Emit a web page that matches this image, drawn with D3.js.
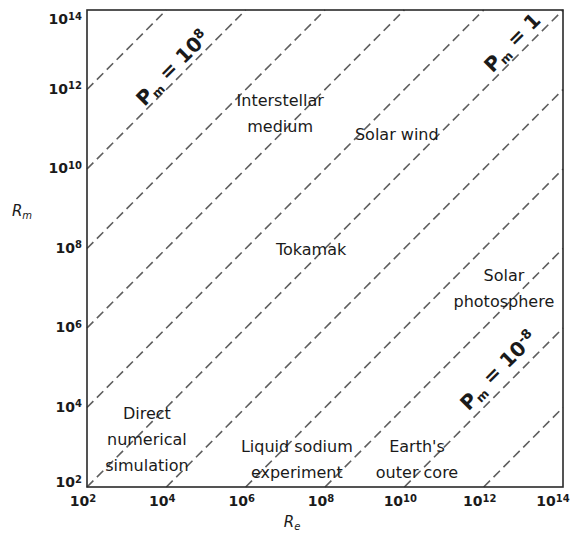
<!DOCTYPE html>
<html>
<head>
<meta charset="utf-8">
<script src="https://cdn.jsdelivr.net/npm/d3@7"></script>
<style>
  html, body { margin: 0; padding: 0; background: #fff; }
  svg { display: block; }
  text { font-family: "DejaVu Sans", sans-serif; fill: #1a1a1a; }
</style>
</head>
<body>
<svg id="chart" width="575" height="536"></svg>
<script>
// Axis decades (powers of ten) shown as tick labels on both axes
const reTickExponents = [2, 4, 6, 8, 10, 12, 14];
const rmTickExponents = [2, 4, 6, 8, 10, 12, 14];

// Magnetic Prandtl number contours Pm = Rm / Re (powers of ten)
const pmExponents = [10, 8, 6, 4, 2, 0, -2, -4, -6, -8, -10];

// Labelled contours: exponent and Re position (log10) along the line
const pmLabelExponents = [8, 0, -8];
const pmLabelReLog = [4.35, 12.95, 12.65];

// Physical regimes: name lines and their (Re, Rm) location (log10)
const regimeNames = [
  ["Interstellar", "medium"],
  ["Solar wind"],
  ["Tokamak"],
  ["Solar", "photosphere"],
  ["Direct", "numerical", "simulation"],
  ["Liquid sodium", "experiment"],
  ["Earth's", "outer core"]
];
const regimeReLog = [6.87, 9.81, 7.65, 12.51, 3.51, 7.29, 10.32];
const regimeRmLog = [11.38, 10.86, 7.96, 6.99, 3.18, 2.68, 2.69];

const svg = d3.select("#chart");
const margin = { left: 87, right: 12, top: 10, bottom: 49 };
const W = 575, H = 536;

const x = d3.scaleLog().domain([1e2, 1e14]).range([margin.left, W - margin.right]);
const y = d3.scaleLog().domain([1e2, 1e14]).range([H - margin.bottom, margin.top]);

// Dashed Pm contours, clipped to the plotted domain
const line = d3.line().x(d => x(d[0])).y(d => y(d[1]));
svg.append("g")
  .selectAll("path")
  .data(pmExponents)
  .join("path")
  .attr("d", e => {
    const lo = Math.max(2, 2 - e), hi = Math.min(14, 14 - e);
    return line([[10 ** lo, 10 ** (lo + e)], [10 ** hi, 10 ** (hi + e)]]);
  })
  .attr("fill", "none")
  .attr("stroke", "#5e5e5e")
  .attr("stroke-width", 1.6)
  .attr("stroke-dasharray", "9,5");

// Plot frame
svg.append("rect")
  .attr("x", x(1e2)).attr("y", y(1e14))
  .attr("width", x(1e14) - x(1e2)).attr("height", y(1e2) - y(1e14))
  .attr("fill", "none").attr("stroke", "#2a2a2a").attr("stroke-width", 1.6);

// Tick labels written as 10 with a superscript exponent
function powerLabel(sel) {
  sel.append("tspan").text("10");
  sel.append("tspan").attr("dy", "-0.45em").attr("font-size", "10px").text(d => d);
}

svg.append("g")
  .selectAll("text")
  .data(reTickExponents)
  .join("text")
  .attr("x", d => Math.min(x(10 ** d) - 4, W - 22))
  .attr("y", H - margin.bottom + 19)
  .attr("text-anchor", "middle")
  .attr("font-size", "14px")
  .attr("font-weight", "bold")
  .call(powerLabel);

svg.append("g")
  .selectAll("text")
  .data(rmTickExponents)
  .join("text")
  .attr("x", margin.left - 5)
  .attr("y", d => Math.min(Math.max(y(10 ** d) + 4, margin.top + 14), H - margin.bottom))
  .attr("text-anchor", "end")
  .attr("font-size", "14px")
  .attr("font-weight", "bold")
  .call(powerLabel);

// Axis titles
const xt = svg.append("text")
  .attr("x", 292).attr("y", 527)
  .attr("text-anchor", "middle")
  .attr("font-size", "15px").attr("font-style", "italic");
xt.append("tspan").text("R");
xt.append("tspan").attr("dy", "0.3em").attr("font-size", "10px").text("e");

const yt = svg.append("text")
  .attr("x", 22).attr("y", 216)
  .attr("text-anchor", "middle")
  .attr("font-size", "15px").attr("font-style", "italic");
yt.append("tspan").text("R");
yt.append("tspan").attr("dy", "0.3em").attr("font-size", "10px").text("m");

// Pm labels running along their contours, just above the dashed line
svg.append("g")
  .selectAll("text")
  .data(pmLabelExponents)
  .join("text")
  .each(function (e, i) {
    const re = 10 ** pmLabelReLog[i];
    const px = x(re), py = y(re * 10 ** e);
    const t = d3.select(this)
      .attr("transform", `translate(${px},${py}) rotate(-45)`)
      .attr("y", e < 0 ? -8 : (e === 0 ? -5 : -3))
      .attr("text-anchor", "middle")
      .attr("font-size", "20px")
      .attr("font-weight", "bold");
    t.append("tspan").text("P");
    t.append("tspan").attr("dy", "0.25em").attr("font-size", "12px").text("m");
    t.append("tspan").attr("dy", "-0.25em").text(" = ");
    if (e === 0) {
      t.append("tspan").text("1");
    } else {
      t.append("tspan").text("10");
      t.append("tspan").attr("dy", "-0.55em").attr("font-size", "13px").text(e);
    }
  });

// Regime names
svg.append("g")
  .selectAll("text")
  .data(regimeNames)
  .join("text")
  .attr("text-anchor", "middle")
  .attr("font-size", "16px")
  .each(function (lines, i) {
    const cx = x(10 ** regimeReLog[i]);
    const cy = y(10 ** regimeRmLog[i]);
    const t = d3.select(this);
    lines.forEach((s, k) => {
      t.append("tspan")
        .attr("x", cx)
        .attr("y", cy + (k - (lines.length - 1) / 2) * 26 + 5)
        .text(s);
    });
  });
</script>
</body>
</html>
